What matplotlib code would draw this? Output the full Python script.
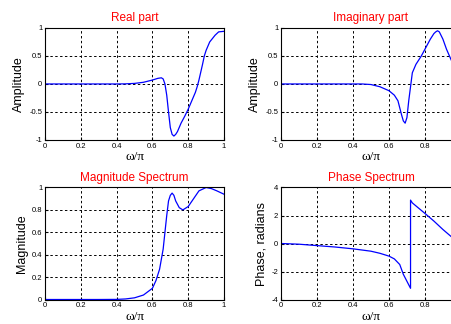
import numpy as np
import matplotlib
matplotlib.use('Agg')
import matplotlib.pyplot as plt

plt.rcParams['font.family'] = ['Liberation Sans', 'DejaVu Sans']

# values
w_re = [0, 0.1, 0.2, 0.3, 0.4, 0.45, 0.5, 0.55, 0.6, 0.63, 0.65, 0.66, 0.67, 0.68, 0.69, 0.70, 0.71,
        0.72, 0.73, 0.74, 0.76, 0.78, 0.8, 0.82, 0.84, 0.85, 0.86, 0.88, 0.89, 0.9, 0.92, 0.95, 0.97, 1.0]
re_part = [0, 0, 0, 0, 0, 0.002, 0.01, 0.03, 0.07, 0.1, 0.11, 0.09, 0.0, -0.2, -0.5, -0.78, -0.9,
           -0.93, -0.9, -0.85, -0.7, -0.58, -0.45, -0.3, -0.15, -0.05, 0.07, 0.35, 0.5, 0.6, 0.75, 0.87, 0.93, 0.94]

w_im = [0, 0.1, 0.2, 0.3, 0.4, 0.45, 0.5, 0.55, 0.6, 0.63, 0.65, 0.67, 0.68, 0.69, 0.70, 0.71, 0.72,
        0.73, 0.75, 0.78, 0.8, 0.83, 0.85, 0.86, 0.87, 0.88, 0.9, 0.92, 0.95, 1.0]
im_part = [0, 0, 0, 0, 0, 0, -0.01, -0.05, -0.12, -0.2, -0.3, -0.55, -0.66, -0.7, -0.6, -0.3, -0.05,
           0.2, 0.35, 0.5, 0.62, 0.8, 0.9, 0.93, 0.95, 0.93, 0.8, 0.62, 0.4, 0.0]

w_mag = [0, 0.1, 0.2, 0.3, 0.4, 0.45, 0.5, 0.55, 0.6, 0.62, 0.64, 0.66, 0.68, 0.69, 0.70, 0.71,
         0.72, 0.73, 0.75, 0.77, 0.8, 0.83, 0.86, 0.9, 0.93, 0.96, 1.0]
mag = [0, 0, 0, 0, 0.001, 0.005, 0.015, 0.04, 0.1, 0.17, 0.27, 0.45, 0.75, 0.88, 0.93, 0.95,
       0.93, 0.88, 0.82, 0.8, 0.83, 0.9, 0.97, 1.0, 0.99, 0.97, 0.94]

w_ph = [0, 0.1, 0.2, 0.3, 0.4, 0.5, 0.55, 0.6, 0.63, 0.66, 0.68, 0.70, 0.72, 0.72, 0.73, 0.8,
        0.85, 0.9, 0.95, 1.0]
phase = [0, -0.05, -0.15, -0.25, -0.38, -0.55, -0.7, -0.9, -1.1, -1.5, -2.2, -2.7, -3.2, 3.1, 2.9, 2.15,
         1.6, 1.0, 0.45, -0.1]

x_ticks = [0, 0.2, 0.4, 0.6, 0.8, 1]
x_labels = ['0', '0.2', '0.4', '0.6', '0.8', '1']
x_labels_cut = ['0', '0.2', '0.4', '0.6', '0.8', '']  # right column runs off the picture edge

fig = plt.figure(figsize=(4.52, 3.24), dpi=100)

def setup(ax, title, ylabel, ylim, yticks, yticklabels, xlabels):
    ax.set_xlim(0, 1)
    ax.set_ylim(*ylim)
    ax.set_xticks(x_ticks)
    ax.set_xticklabels(xlabels)
    ax.set_yticks(yticks)
    ax.set_yticklabels(yticklabels)
    ax.tick_params(direction='in', length=2, labelsize=5.5, pad=2)
    ax.grid(True, color='black', linestyle=(0, (2.5, 2.5)), linewidth=0.7)
    for s in ax.spines.values():
        s.set_linewidth(0.8)
    ax.set_title(title, color='red', fontsize=8.5, pad=5)
    ax.set_ylabel(ylabel, fontsize=9, labelpad=3)
    ax.set_xlabel('ω/π', fontsize=9.5, family=['Liberation Serif', 'DejaVu Serif'], labelpad=1)

ax1 = fig.add_axes([0.0996, 0.568, 0.396, 0.3457])
ax1.plot(w_re, re_part, color='blue', linewidth=0.9)
setup(ax1, 'Real part', 'Amplitude', (-1, 1), [-1, -0.5, 0, 0.5, 1],
      ['-1', '-0.5', '0', '0.5', '1'], x_labels)

ax2 = fig.add_axes([0.6217, 0.568, 0.398, 0.3457])
ax2.plot(w_im, im_part, color='blue', linewidth=0.9)
setup(ax2, 'Imaginary part', 'Amplitude', (-1, 1), [-1, -0.5, 0, 0.5, 1],
      ['-1', '-0.5', '0', '0.5', '1'], x_labels_cut)

ax3 = fig.add_axes([0.0996, 0.0756, 0.396, 0.3457])
ax3.plot(w_mag, mag, color='blue', linewidth=0.9)
setup(ax3, 'Magnitude Spectrum', 'Magnitude', (0, 1), [0, 0.2, 0.4, 0.6, 0.8, 1],
      ['0', '0.2', '0.4', '0.6', '0.8', '1'], x_labels)

ax4 = fig.add_axes([0.6217, 0.0756, 0.398, 0.3457])
ax4.plot(w_ph, phase, color='blue', linewidth=0.9)
setup(ax4, 'Phase Spectrum', 'Phase, radians', (-4, 4), [-4, -2, 0, 2, 4],
      ['-4', '-2', '0', '2', '4'], x_labels_cut)

fig.savefig('out.png', dpi=100)
